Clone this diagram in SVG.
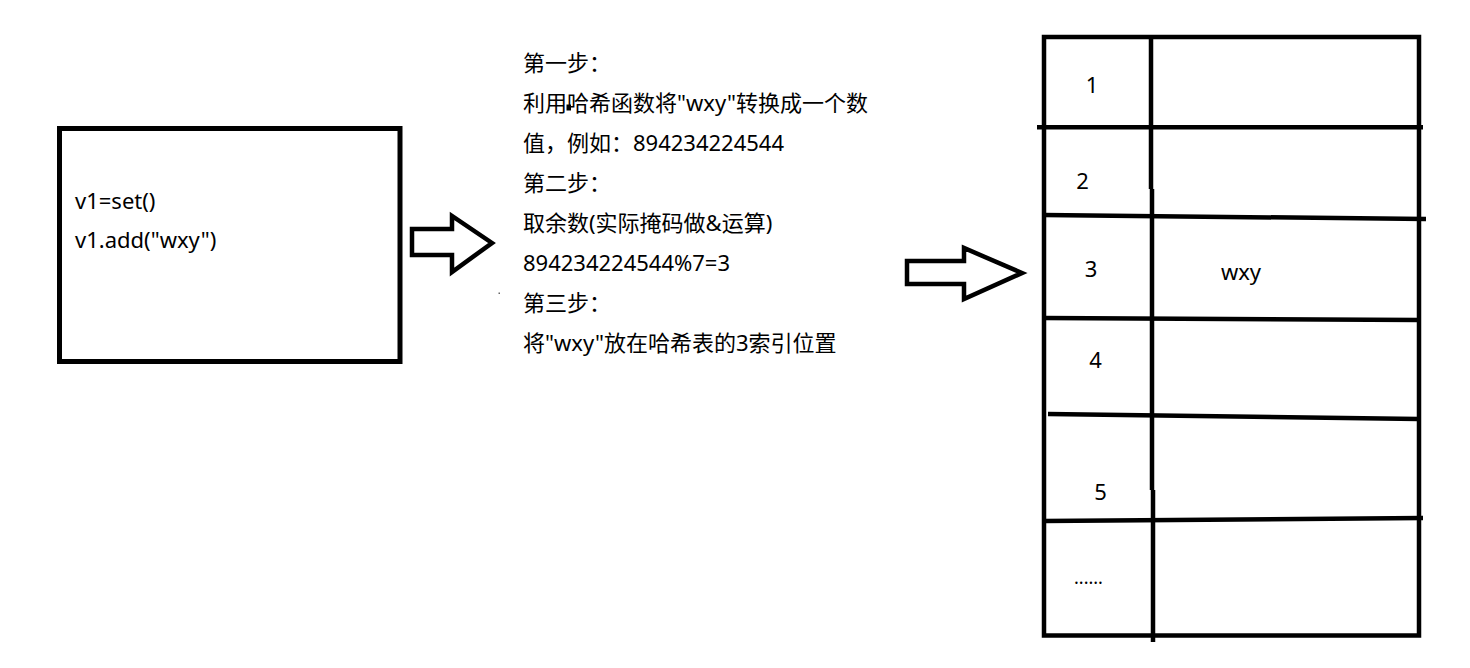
<svg xmlns="http://www.w3.org/2000/svg" width="1470" height="668" viewBox="0 0 1470 668">
<style>
  .t { font-family: "Noto Sans", "Noto Sans CJK SC", sans-serif; font-size: 22px; fill: #000; }
  .box { fill: none; stroke: #000; stroke-width: 5; }
  .grid { fill: none; stroke: #000; stroke-width: 4.5; stroke-linecap: butt; }
  .arrow { fill: #fff; stroke: #000; stroke-width: 4.5; stroke-linejoin: miter; }
</style>
<rect width="1470" height="668" fill="#fff"/>

<g id="code-box">
  <rect class="box" x="59.5" y="128.5" width="340.5" height="233"/>
  <text class="t" x="75" y="209">v1=set()</text>
  <text class="t" x="75" y="248">v1.add("wxy")</text>
</g>

<g id="steps">
  <text class="t" x="523" y="71">第一步：</text>
  <text class="t" x="523" y="111">利用哈希函数将"wxy"转换成一个数</text>
  <rect x="566.5" y="104.5" width="4.5" height="6" fill="#000"/>
  <text class="t" x="523" y="151">值，例如：894234224544</text>
  <text class="t" x="523" y="191">第二步：</text>
  <text class="t" x="523" y="231">取余数(实际掩码做&amp;运算)</text>
  <text class="t" x="523" y="271">894234224544%7=3</text>
  <text class="t" x="523" y="311">第三步：</text>
  <text class="t" x="523" y="351">将"wxy"放在哈希表的3索引位置</text>
  <rect x="498.5" y="292.5" width="1.5" height="1.5" fill="#666"/>
</g>

<g id="hash-table">
  <rect class="grid" x="1044" y="37" width="375" height="598.5"/>
  <path class="grid" d="M1151,37 V189 M1152,189 V490 M1153,490 V642"/>
  <path class="grid" d="M1037,127.3 L1423,127.3"/>
  <path class="grid" d="M1044,215 L1426,219"/>
  <path class="grid" d="M1044,318 L1420,320"/>
  <path class="grid" d="M1048,414 L1419,419"/>
  <path class="grid" d="M1044,521 L1423,518"/>
  <text class="t" x="1092" y="93" text-anchor="middle">1</text>
  <text class="t" x="1082.5" y="188.5" text-anchor="middle">2</text>
  <text class="t" x="1091" y="277" text-anchor="middle">3</text>
  <text class="t" x="1241" y="280" text-anchor="middle">wxy</text>
  <text class="t" x="1095.5" y="367.5" text-anchor="middle">4</text>
  <text class="t" x="1100.5" y="500" text-anchor="middle">5</text>
  <text class="t" x="1074" y="584" style="font-size:18px">......</text>
</g>

<g id="connectors">
  <path class="arrow" d="M412,229 L452,229 L452,216 L492,243 L452,272 L452,255 L412,255 Z"/>
  <path class="arrow" d="M907,261 L964,261 L964,248 L1022,273 L964,299 L964,284 L907,284 Z"/>
</g>
</svg>
